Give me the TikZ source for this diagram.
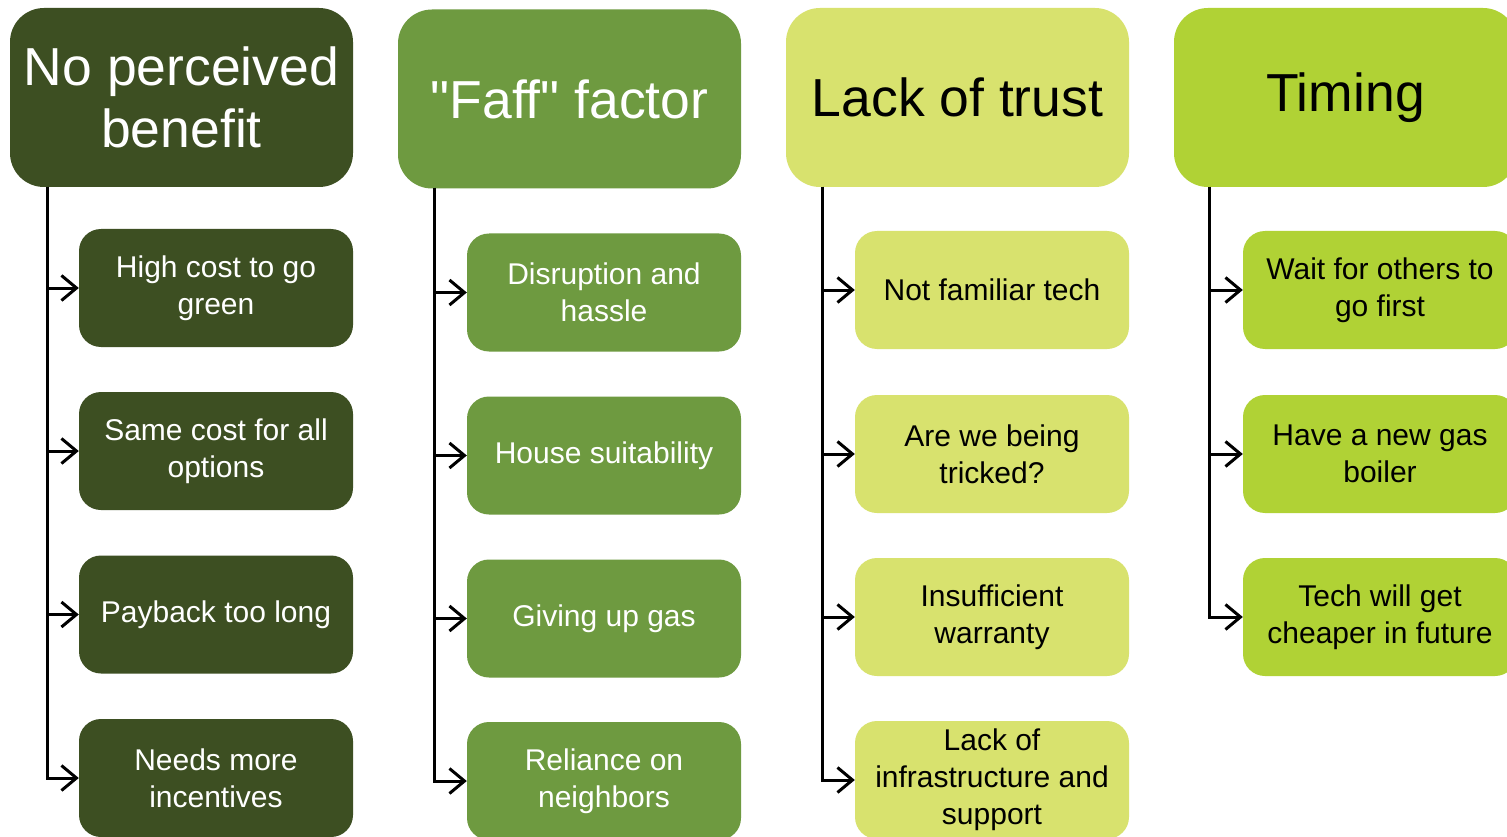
\documentclass[tikz,border=0pt]{standalone}
\usepackage{fontspec}
\setmainfont{Liberation Sans}[Ligatures=TeXOff]
\usetikzlibrary{arrows.meta}
\definecolor{cA}{RGB}{61,79,34}
\definecolor{cB}{RGB}{110,154,64}
\definecolor{cC}{RGB}{216,226,110}
\definecolor{cD}{RGB}{176,210,53}
\tikzset{
  head/.style={rounded corners=34pt, minimum width=343pt, minimum height=179pt, align=center, inner sep=0pt,
    font=\fontsize{53.5}{62}\selectfont},
  kid/.style={rounded corners=22pt, minimum width=274pt, minimum height=118pt, align=center, inner sep=0pt,
    font=\fontsize{30}{37}\selectfont},
  arr/.style={line width=3pt, -{Straight Barb[length=15pt,width=25pt,line width=3pt]}},
}
\begin{document}
\begin{tikzpicture}[x=1pt,y=-1pt]
\useasboundingbox (0,0) rectangle (1507,837);
\clip (0,0) rectangle (1507,837);
\fill[white] (0,0) rectangle (1507,837);
% column 1
\node[head, fill=cA, text=white] (h1) at (181.5,97.5) {No perceived\\benefit};
\node[kid, fill=cA, text=white] (a1) at (216,288) {High cost to go\\green};
\node[kid, fill=cA, text=white] (a2) at (216,451) {Same cost for all\\options};
\node[kid, fill=cA, text=white] (a3) at (216,614.5) {Payback too long};
\node[kid, fill=cA, text=white] (a4) at (216,778) {Needs more\\incentives};
\coordinate (t1) at (47,187);
% column 2
\node[head, fill=cB, text=white] (h2) at (569.5,99) {"Faff" factor};
\node[kid, fill=cB, text=white] (b1) at (604,292.5) {Disruption and\\hassle};
\node[kid, fill=cB, text=white] (b2) at (604,455.5) {House suitability};
\node[kid, fill=cB, text=white] (b3) at (604,618.5) {Giving up gas};
\node[kid, fill=cB, text=white] (b4) at (604,781) {Reliance on\\neighbors};
\coordinate (t2) at (434,188);
% column 3
\node[head, fill=cC, text=black] (h3) at (957.5,97.5) {Lack of trust};
\node[kid, fill=cC, text=black] (c1) at (992,290) {Not familiar tech};
\node[kid, fill=cC, text=black] (c2) at (992,454) {Are we being\\tricked?};
\node[kid, fill=cC, text=black] (c3) at (992,617) {Insufficient\\warranty};
\node[kid, fill=cC, text=black] (c4) at (992,780) {Lack of\\infrastructure and\\support};
\coordinate (t3) at (822,187);
% column 4
\node[head, fill=cD, text=black] (h4) at (1345.5,97.5) {Timing};
\node[kid, fill=cD, text=black] (d1) at (1380,290) {Wait for others to\\go first};
\node[kid, fill=cD, text=black] (d2) at (1380,454) {Have a new gas\\boiler};
\node[kid, fill=cD, text=black] (d3) at (1380,617) {Tech will get\\cheaper in future};
\coordinate (t4) at (1209,187);
% connectors
\foreach \t/\k in {t1/a1,t1/a2,t1/a3,t1/a4,t2/b1,t2/b2,t2/b3,t2/b4,t3/c1,t3/c2,t3/c3,t3/c4,t4/d1,t4/d2,t4/d3}
  \draw[arr] (\t) |- (\k.west);
\end{tikzpicture}
\end{document}
